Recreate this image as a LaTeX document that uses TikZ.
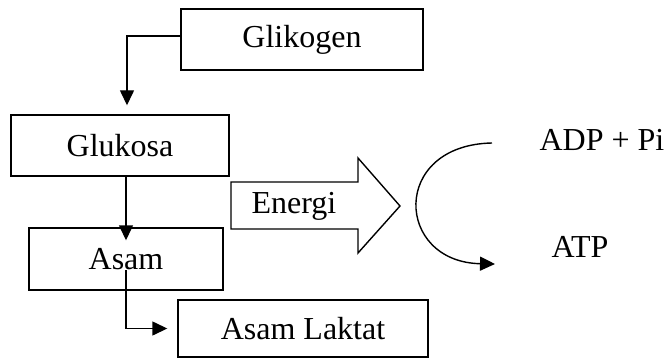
\documentclass[tikz,border=0pt]{standalone}
\usepackage{fontspec}
\setmainfont{Liberation Serif}
\usetikzlibrary{arrows.meta}
\tikzset{
	box/.style={draw,line width=1.4pt,inner sep=0pt,minimum height=61pt},
	link/.style={line width=1.4pt,-{Triangle[length=15pt,width=14pt]}}
}

\begin{document}
\begin{tikzpicture}[x=1pt,y=-1pt,font=\fontsize{32}{36}\selectfont]
		\useasboundingbox (0,0) rectangle (669,358);
		\node[box,minimum width=242pt] (glikogen) at (302,39.5) {Glikogen};
		\node[box,minimum width=218pt] (glukosa) at (120,145.5) {Glukosa};
		\node[box,minimum width=194pt,minimum height=62pt] (asam) at (126,259) {Asam};
		\node[box,minimum width=250pt,minimum height=57pt] (laktat) at (303,328.5) {Asam Laktat};
		\draw[link] ([yshift=3.5pt]glikogen.west) -| ([xshift=7pt,yshift=9pt]glukosa.north);
		\draw[link] (glukosa.south -| asam.center) -- ([yshift=-13pt]asam.north);
		\draw[link] ([yshift=-11pt]asam.center) |- ([xshift=-10pt]laktat.west);
		\draw[line width=1.4pt,line join=miter] (231,182) -- (358,182) -- (358,158) -- (400,206) -- (358,253) -- (358,229) -- (231,229) -- cycle;
		\node (energi) at (294,206) {Energi};
		\node (adp) at (602,140) {ADP + Pi};
		\node (atp) at (580,247) {ATP};
		\coordinate (cycin) at (492,143);
		\coordinate (cycout) at (495,264);
		\draw[link] (cycin) .. controls (390,145) and (395,262) .. (cycout);
	\end{tikzpicture}
\end{document}
